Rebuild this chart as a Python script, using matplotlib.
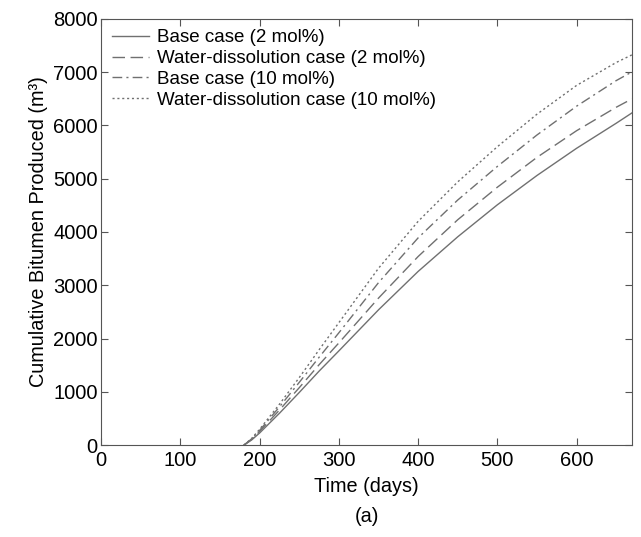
import matplotlib
matplotlib.use("Agg")
import matplotlib.pyplot as plt

plt.rcParams['font.family'] = ['Liberation Sans', 'DejaVu Sans']

days = [180, 190, 200, 225, 250, 275, 300, 350, 400, 450, 500, 550, 600, 650, 670]
base_2 = [0, 100, 230, 600, 990, 1390, 1770, 2540, 3260, 3910, 4510, 5060, 5570, 6040, 6235]
water_2 = [0, 110, 260, 660, 1080, 1510, 1920, 2760, 3540, 4230, 4840, 5400, 5900, 6340, 6498]
base_10 = [0, 120, 280, 720, 1180, 1650, 2110, 3050, 3890, 4600, 5230, 5820, 6360, 6840, 7005]
water_10 = [0, 130, 300, 770, 1270, 1790, 2300, 3320, 4200, 4940, 5600, 6210, 6750, 7180, 7324]

labels = ["Base case (2 mol%)", "Water-dissolution case (2 mol%)",
          "Base case (10 mol%)", "Water-dissolution case (10 mol%)"]

fig = plt.figure(figsize=(6.41, 5.37), dpi=100)
ax = fig.add_axes([0.158, 0.171, 0.828, 0.794])
c = '#707070'
ax.plot(days, base_2, color=c, lw=1.0, ls='-', label=labels[0])
ax.plot(days, water_2, color=c, lw=1.0, ls=(0, (9, 4)), label=labels[1])
ax.plot(days, base_10, color=c, lw=1.0, ls=(0, (7, 3, 1.5, 3)), label=labels[2])
ax.plot(days, water_10, color=c, lw=1.0, ls=(0, (1.5, 2)), label=labels[3])

ax.set_xlim(0, 670)
ax.set_ylim(0, 8000)
ax.set_xticks(range(0, 601, 100))
ax.set_yticks(range(0, 8001, 1000))
ax.tick_params(direction='in', top=True, right=True, labelsize=14.5, length=5,
               color='#555555', pad=2.5)
ax.tick_params(axis='x', pad=4)
for s in ax.spines.values():
    s.set_color('#555555')
ax.set_xlabel("Time (days)", fontsize=14.3, labelpad=5)
ax.set_ylabel("Cumulative Bitumen Produced (m³)", fontsize=14.3, labelpad=4)
ax.legend(loc='upper left', frameon=False, fontsize=13.5, handlelength=2.0,
          borderaxespad=0.25, labelspacing=0.2, handletextpad=0.4, borderpad=0.3)
fig.text(0.573, 0.038, "(a)", ha='center', va='center', fontsize=14.3)
fig.savefig("out.png", dpi=100)
